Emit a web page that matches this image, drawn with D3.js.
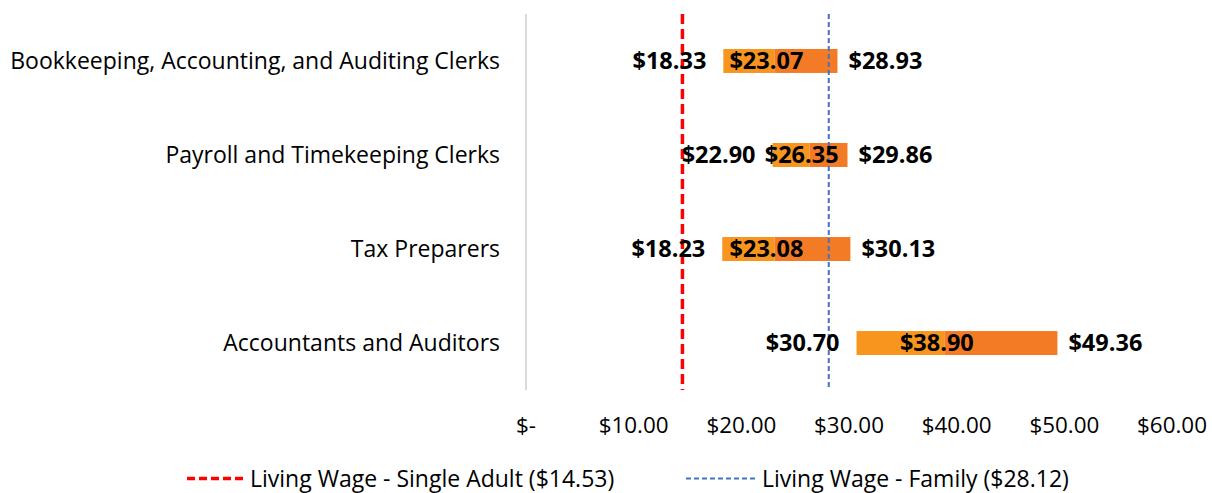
<!DOCTYPE html>
<html>
<head>
<meta charset="utf-8">
<script src="https://cdn.jsdelivr.net/npm/d3@7"></script>
<style>
  body { margin: 0; background: #fff; }
  text { font-family: "Open Sans", "Noto Sans", sans-serif; fill: #000; }
</style>
</head>
<body>
<svg></svg>
<script>
// Chart data
var categories = [
    "Bookkeeping, Accounting, and Auditing Clerks",
    "Payroll and Timekeeping Clerks",
    "Tax Preparers",
    "Accountants and Auditors"
];
var low = [18.33, 22.90, 18.23, 30.70];     // 25th percentile
var median = [23.07, 26.35, 23.08, 38.90];
var high = [28.93, 29.86, 30.13, 49.36];    // 75th percentile
var xTicks = [0, 10, 20, 30, 40, 50, 60];
var wageSingle = 14.53;
var wageFamily = 28.12;

var w = 1212, h = 493;
var margin = { top: 14, right: 40, bottom: 103, left: 526 };

var svg = d3.select("svg")
    .attr("width", w)
    .attr("height", h);

var x = d3.scaleLinear().domain([0, 60]).range([margin.left, 1172]);
var y = d3.scaleBand().domain(categories).range([margin.top, h - margin.bottom]).paddingInner(0.745).paddingOuter(0.372);

var fmt = function (v) { return v === 0 ? "$-" : "$" + v.toFixed(2); };

// vertical axis line
svg.append("line")
    .attr("x1", x(0)).attr("x2", x(0))
    .attr("y1", margin.top).attr("y2", h - margin.bottom)
    .attr("stroke", "#d9d9d9").attr("stroke-width", 2);

// category labels
svg.selectAll(".cat")
    .data(categories)
    .enter().append("text")
    .attr("class", "cat")
    .attr("x", 500)
    .attr("y", d => y(d) + y.bandwidth() / 2)
    .attr("dy", "0.35em")
    .attr("text-anchor", "end")
    .style("font-size", "23px")
    .text(d => d);

// x tick labels
svg.selectAll(".tick")
    .data(xTicks)
    .enter().append("text")
    .attr("class", "tick")
    .attr("x", d => x(d))
    .attr("y", 425.5)
    .attr("dy", "0.35em")
    .attr("text-anchor", "middle")
    .style("font-size", "22.4px")
    .text(fmt);

var rows = categories.map((c, i) => ({ cat: c, low: low[i], med: median[i], high: high[i] }));

// bars: low -> median (light), median -> high (dark)
svg.selectAll(".barA")
    .data(rows)
    .enter().append("rect")
    .attr("x", d => x(d.low))
    .attr("y", d => y(d.cat))
    .attr("width", d => x(d.med) - x(d.low))
    .attr("height", y.bandwidth())
    .attr("fill", "#f7951f");

svg.selectAll(".barB")
    .data(rows)
    .enter().append("rect")
    .attr("x", d => x(d.med))
    .attr("y", d => y(d.cat))
    .attr("width", d => x(d.high) - x(d.med))
    .attr("height", y.bandwidth())
    .attr("fill", "#f47b26");

// living wage lines
svg.append("line")
    .attr("x1", x(wageSingle)).attr("x2", x(wageSingle))
    .attr("y1", margin.top).attr("y2", h - margin.bottom)
    .attr("stroke", "#ff0000").attr("stroke-width", 3.5)
    .attr("stroke-dasharray", "10,5");

svg.append("line")
    .attr("x1", x(wageFamily)).attr("x2", x(wageFamily))
    .attr("y1", margin.top).attr("y2", h - margin.bottom)
    .attr("stroke", "#4472c4").attr("stroke-width", 2)
    .attr("stroke-dasharray", "5,3");

// value labels
var lab = function (cls, xf, anchor) {
    svg.selectAll("." + cls)
        .data(rows)
        .enter().append("text")
        .attr("x", xf)
        .attr("y", d => y(d.cat) + y.bandwidth() / 2)
        .attr("dy", "0.35em")
        .attr("text-anchor", anchor)
        .style("font-size", "23.5px")
        .style("font-weight", "bold")
        .text(d => fmt(cls === "lLow" ? d.low : cls === "lMed" ? d.med : d.high));
};
lab("lLow", d => x(d.low) - 17, "end");
lab("lMed", d => x(d.med) - 8, "middle");
lab("lHigh", d => x(d.high) + 11, "start");

// legend
var legend = svg.append("g").attr("transform", "translate(0,478.5)");
legend.append("line")
    .attr("x1", 187).attr("x2", 244).attr("y1", 0).attr("y2", 0)
    .attr("stroke", "#ff0000").attr("stroke-width", 3.5)
    .attr("stroke-dasharray", "8,4");
legend.append("text")
    .attr("x", 250).attr("y", 0).attr("dy", "0.35em")
    .style("font-size", "23px")
    .text("Living Wage - Single Adult ($" + wageSingle.toFixed(2) + ")");
legend.append("line")
    .attr("x1", 686).attr("x2", 756).attr("y1", 0).attr("y2", 0)
    .attr("stroke", "#4472c4").attr("stroke-width", 2)
    .attr("stroke-dasharray", "5,3");
legend.append("text")
    .attr("x", 762).attr("y", 0).attr("dy", "0.35em")
    .style("font-size", "23px")
    .text("Living Wage - Family ($" + wageFamily.toFixed(2) + ")");
</script>
</body>
</html>
